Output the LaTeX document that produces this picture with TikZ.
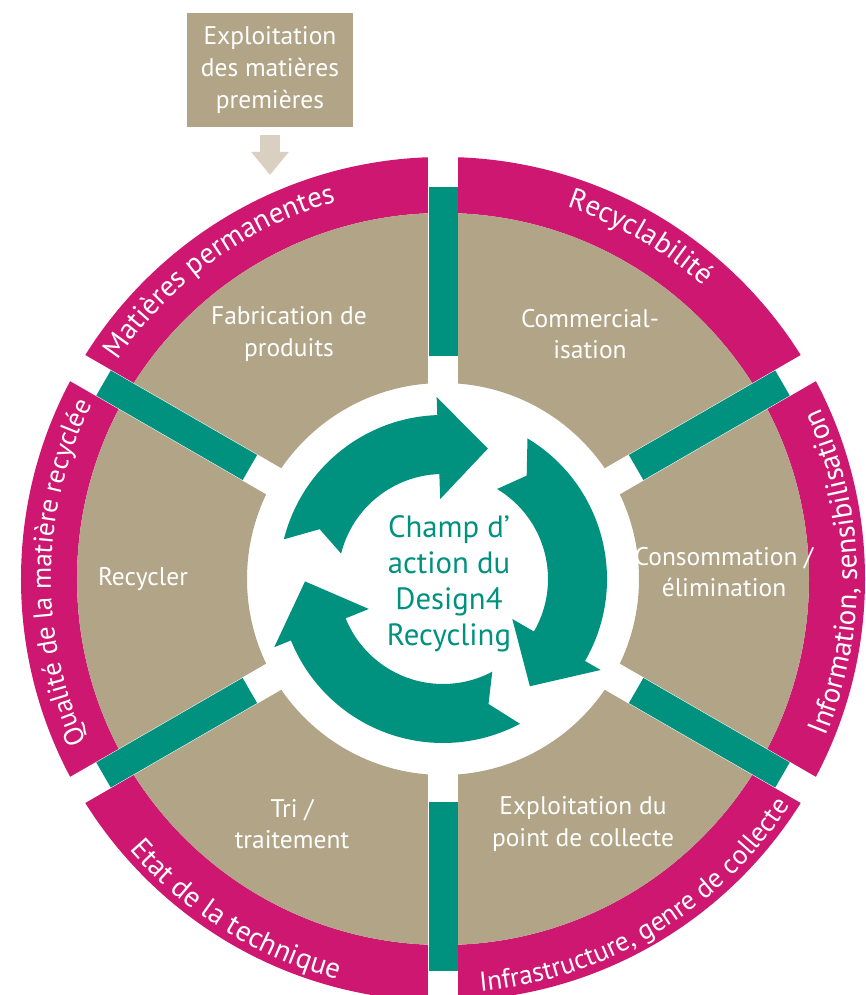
\documentclass[tikz,border=0pt]{standalone}
\usepackage{fontspec}
\setmainfont{PT Sans}
\usetikzlibrary{arrows.meta,decorations.text}

\definecolor{dmagenta}{HTML}{CE1770}
\definecolor{dbeige}{HTML}{B1A487}
\definecolor{dteal}{HTML}{00917F}
\definecolor{dsand}{HTML}{D9D0C1}

\newcommand\bandfont{\fontsize{16.5}{18}\selectfont}
\newcommand\bandsmall{\fontsize{15.5}{17}\selectfont}

\begin{document}
\begin{tikzpicture}[
    font=\fontsize{14.5}{18}\selectfont,
    seglbl/.style={text=white, align=center},
    rawbox/.style={rectangle, fill=dbeige, text=white, minimum width=3.32cm,
                   minimum height=2.28cm, align=center, inner sep=0pt},
    hublbl/.style={text=dteal, align=center, font=\fontsize{17.5}{20.6}\selectfont},
    feedarrow/.style={draw=dsand, line width=0.4cm, -{Triangle[length=0.46cm, width=0.72cm]}},
    bandtext/.style={decorate, decoration={text along path, text align=center,
                   text color=white, text={|\bandfont|#1}}},
    bandtextsm/.style={decorate, decoration={text along path, text align=center,
                   text color=white, text={|\bandsmall|#1}}}
]
\useasboundingbox (-8.86,-8.32) rectangle (8.44,11.58);

% ---- Outer ring: beige sectors and magenta band ----
\fill[dmagenta, even odd rule] (0,0) circle (8.44) (0,0) circle (7.32);
\fill[dbeige, even odd rule] (0,0) circle (7.32) (0,0) circle (3.92);

% ---- Gaps with teal bars ----
\foreach \a in {30,90,...,330} {
    \fill[white, rotate=\a] (3.5,-0.3) rectangle (8.7,0.3);
    \fill[dteal, rotate=\a] (4.46,-0.29) rectangle (7.84,0.29);
}

% ---- Recycling arrows (tail / head base / tip) ----
\foreach \t/\h/\p in {166/92/71, 59/-30/-51, -62/-158/-179} {
    \fill[dteal] (\t:3.28) arc[start angle=\t, end angle=\h, radius=3.28]
        -- (\h:3.64) -- (\p:2.76) -- (\h:1.6) -- (\h:2.1)
        arc[start angle=\h, end angle=\t, radius=2.1]
        -- ({\t-8}:2.66) -- cycle;
}
\node[hublbl] (hub) at (0.12,-0.1) {Champ d’\\action du\\Design4\\Recycling};

% ---- Segment labels ----
\node[seglbl] (fab)  at (-3.08,4.9)   {Fabrication de\\produits};
\node[seglbl] (com)  at (2.94,4.9)    {Commercial-\\isation};
\node[seglbl] (cons) at (5.62,0.14)   {Consommation /\\élimination};
\node[seglbl] (pdc)  at (2.8,-4.9)    {Exploitation du\\point de collecte};
\node[seglbl] (tri)  at (-3.02,-4.9)  {Tri /\\traitement};
\node[seglbl] (rec)  at (-6.0,0)      {Recycler};

% ---- Band labels (clockwise on top, counter-clockwise below) ----
\path[bandtext={Matières permanentes}] (171:7.84) arc[start angle=171, end angle=81, radius=7.84];
\path[bandtext={Recyclabilité}] (105:7.84) arc[start angle=105, end angle=15, radius=7.84];
\path[bandtextsm={Qualité de la matière recyclée}] (229:7.84) arc[start angle=229, end angle=129, radius=7.84];
\path[bandtext={Information, sensibilisation}] (-44:8.28) arc[start angle=-44, end angle=46, radius=8.28];
\path[bandtextsm={Infrastructure, genre de collecte}] (-104:8.28) arc[start angle=-104, end angle=-14, radius=8.28];
\path[bandtext={Etat de la technique}] (193:8.28) arc[start angle=193, end angle=283, radius=8.28];

% ---- Raw material input ----
\node[rawbox] (raw) at (-3.46,10.18) {Exploitation\\des matières\\premières};
\coordinate (feed) at (-3.46,8.08);
\draw[feedarrow, shorten <=0.16cm] (raw.south) -- (feed);

\end{tikzpicture}
\end{document}
